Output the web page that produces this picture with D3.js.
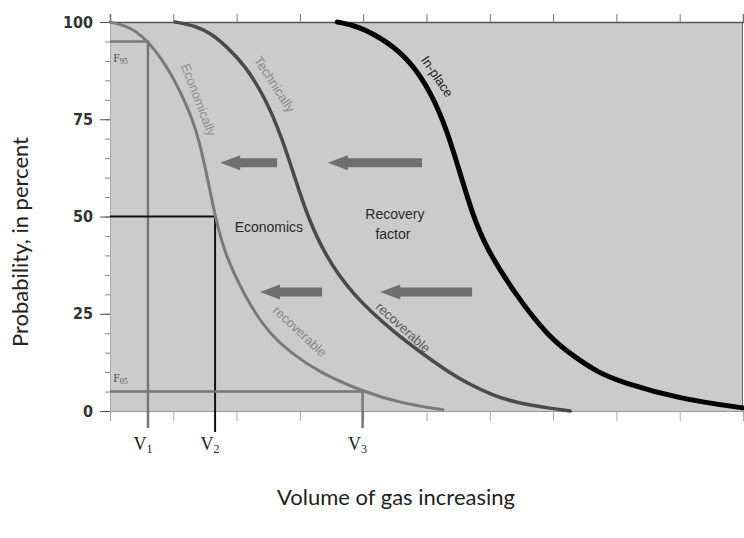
<!DOCTYPE html>
<html lang="en">
<head>
<meta charset="UTF-8">
<title>Probability versus volume of gas</title>
<script src="https://d3js.org/d3.v7.min.js"></script>
<style>
    body {
        margin: 0;
        background: #fff;
    }
    .ylab text {
        font-family: "Liberation Sans Narrow", "DejaVu Sans Condensed", Arial, sans-serif;
        font-weight: bold;
        font-size: 16px;
        fill: #333;
    }
    .title {
        font-family: Lato, "Open Sans", sans-serif;
        font-size: 22px;
        fill: #222;
    }
    .vlab {
        font-family: "Liberation Serif", "DejaVu Serif", serif;
        font-size: 18px;
        fill: #222;
    }
    .note {
        font-family: "Liberation Sans", Arial, sans-serif;
        font-size: 14px;
        fill: #2a2a2a;
    }
    .curvelab {
        font-family: "Liberation Sans", Arial, sans-serif;
        font-size: 13px;
    }
</style>
</head>
<body>
<svg width="744" height="538"></svg>
<script>
    // curves (x = volume in tick units, y = probability %)
    const econX = [0, 0.25, 0.42, 0.6, 0.84, 1.02, 1.17, 1.30, 1.40, 1.54, 1.66, 1.82, 2.12, 2.30, 2.52, 2.85, 3.30, 3.99, 4.6, 5.26];
    const econY = [100, 99, 97.5, 95, 90, 85, 80, 75, 70, 60, 50, 40, 30, 25, 20, 15, 10, 5, 2, 0.3];

    const techX = [1.03, 1.35, 1.6, 1.82, 2.13, 2.47, 2.72, 2.92, 3.12, 3.40, 3.82, 4.50, 5.0, 5.35, 5.66, 6.05, 6.45, 6.95, 7.27];
    const techY = [100, 99, 97, 94, 89, 80, 70, 60, 50, 40, 30, 20, 14, 10, 7, 4, 2, 0.7, 0];

    const placeX = [3.59, 3.92, 4.38, 4.74, 5.07, 5.33, 5.55, 5.74, 5.94, 6.40, 6.93, 7.33, 7.70, 8.06, 9.0, 10];
    const placeY = [100, 99, 95, 90, 82, 72, 60, 50, 42, 30, 19, 14, 10, 7.5, 3.1, 0.8];

    // fractiles of the economically recoverable curve
    const fracNames = ["1", "2", "3"];
    const fracX = [0.6, 1.66, 3.99];
    const fracY = [95, 50, 5];

    const yTicks = [0, 25, 50, 75, 100];

    // arrows (from x0 to x1 at y)
    const arrowX0 = [2.64, 4.93, 3.35, 5.72];
    const arrowX1 = [1.74, 3.44, 2.37, 4.27];
    const arrowY = [63.8, 63.8, 30.6, 30.6];

    const svg = d3.select("svg");
    const margin = {left: 110, right: 1, top: 22, bottom: 127};
    const width = 744, height = 538;

    const x = d3.scaleLinear().domain([0, 10]).range([margin.left, width - margin.right]);
    const y = d3.scaleLinear().domain([0, 100]).range([height - margin.bottom, margin.top]);

    // grey plot area
    svg.append("rect")
        .attr("x", x(0)).attr("y", y(100))
        .attr("width", x(10) - x(0)).attr("height", y(0) - y(100))
        .attr("fill", "#cbcbcb");

    // axes
    svg.append("g")
        .attr("transform", `translate(${x(0)},0)`)
        .call(d3.axisLeft(y).tickValues(d3.range(0, 101, 5)).tickSize(5).tickFormat(""))
        .call(g => g.select(".domain").attr("stroke", "#aaa"))
        .call(g => g.selectAll("line").attr("stroke", "#888"));

    svg.append("g")
        .attr("class", "ylab")
        .attr("transform", `translate(${x(0)},0)`)
        .call(d3.axisLeft(y).tickValues(yTicks).tickSize(10).tickPadding(7))
        .call(g => g.select(".domain").remove())
        .call(g => g.selectAll("line").attr("stroke", "#555"));

    svg.append("g")
        .attr("transform", `translate(0,${y(100)})`)
        .call(d3.axisTop(x).ticks(10).tickSize(8).tickFormat(""))
        .call(g => g.select(".domain").attr("stroke", "#555").attr("stroke-width", 1.5))
        .call(g => g.selectAll("line").attr("stroke", "#777"));

    svg.append("g")
        .attr("transform", `translate(0,${y(0)})`)
        .call(d3.axisBottom(x).ticks(10).tickSize(10).tickFormat(""))
        .call(g => g.select(".domain").attr("stroke", "#999"))
        .call(g => g.selectAll("line").attr("stroke", "#aaa"));

    svg.append("line")
        .attr("x1", x(10) - 0.5).attr("x2", x(10) - 0.5)
        .attr("y1", y(100)).attr("y2", y(0))
        .attr("stroke", "#666");

    // fractile guide lines
    const fracColor = ["#777", "#111", "#777"];
    fracX.forEach((fx, i) => {
        svg.append("path")
            .attr("d", `M${x(0)},${y(fracY[i])}H${x(fx)}V${y(0) + (i === 1 ? 21 : 17)}`)
            .attr("fill", "none")
            .attr("stroke", fracColor[i])
            .attr("stroke-width", i === 1 ? 2 : 2.5);
    });

    // curves
    const line = d3.line()
        .x(d => x(d[0]))
        .y(d => y(d[1]))
        .curve(d3.curveBasis);

    const curves = [
        {xs: econX, ys: econY, color: "#7a7a7a", w: 3},
        {xs: techX, ys: techY, color: "#4a4a4a", w: 3.5},
        {xs: placeX, ys: placeY, color: "#000", w: 5}
    ];
    svg.append("g")
        .selectAll("path")
        .data(curves)
        .join("path")
        .attr("d", d => line(d.xs.map((v, i) => [v, d.ys[i]])))
        .attr("fill", "none")
        .attr("stroke", d => d.color)
        .attr("stroke-width", d => d.w)
        .attr("stroke-linecap", "round");

    // arrows
    arrowX0.forEach((ax, i) => {
        const x0 = x(ax), x1 = x(arrowX1[i]), yy = y(arrowY[i]);
        const hl = 20, sh = 4.5, hh = 7.5;
        svg.append("path")
            .attr("d", `M${x0},${yy - sh}H${x1 + hl}V${yy - hh}L${x1},${yy}L${x1 + hl},${yy + hh}V${yy + sh}H${x0}Z`)
            .attr("fill", "#6f6f6f");
    });

    // text notes inside the plot
    svg.append("text").attr("class", "note")
        .attr("x", x(2.51)).attr("y", y(46))
        .attr("text-anchor", "middle")
        .text("Economics");
    svg.append("text").attr("class", "note")
        .attr("x", x(4.5)).attr("y", y(49.4))
        .attr("text-anchor", "middle")
        .text("Recovery");
    svg.append("text").attr("class", "note")
        .attr("x", x(4.47)).attr("y", y(44.2))
        .attr("text-anchor", "middle")
        .text("factor");

    // curve labels, rotated along the lines
    const curveLabels = [
        {text: "Economically", cx: 1.4, cy: 80, a: 69, c: "#8f8f8f"},
        {text: "recoverable", cx: 3.0, cy: 20.5, a: 43, c: "#8a8a8a"},
        {text: "Technically", cx: 2.6, cy: 84, a: 57, c: "#8a8a8a"},
        {text: "recoverable", cx: 4.63, cy: 21.5, a: 42, c: "#5a5a5a"},
        {text: "In-place", cx: 5.17, cy: 86, a: 56, c: "#222"}
    ];
    svg.append("g")
        .selectAll("text")
        .data(curveLabels)
        .join("text")
        .attr("class", "curvelab")
        .attr("transform", d => `translate(${x(d.cx)},${y(d.cy)}) rotate(${d.a})`)
        .attr("text-anchor", "middle")
        .attr("dy", "0.35em")
        .attr("fill", d => d.c)
        .text(d => d.text);

    // F95 / F05 labels
    [["95", 90.7], ["05", 8.4]].forEach(([s, v]) => {
        const t = svg.append("text")
            .attr("x", x(0.05)).attr("y", y(v) + 4)
            .attr("font-family", "Liberation Serif, serif")
            .attr("font-size", 12)
            .attr("fill", "#555");
        t.append("tspan").text("F");
        t.append("tspan").attr("font-size", 8).attr("dy", 2).text(s);
    });

    // V labels under the fractile lines
    fracX.forEach((fx, i) => {
        const t = svg.append("text")
            .attr("class", "vlab")
            .attr("x", x(fx) - 5).attr("y", y(0) + 39)
            .attr("text-anchor", "middle");
        t.append("tspan").text("V");
        t.append("tspan").attr("font-size", 12).attr("dy", 3).text(fracNames[i]);
    });

    // axis titles
    svg.append("text").attr("class", "title")
        .attr("x", 396).attr("y", 505)
        .attr("text-anchor", "middle")
        .text("Volume of gas increasing");
    svg.append("text").attr("class", "title")
        .attr("transform", "translate(28,242) rotate(-90)")
        .attr("text-anchor", "middle")
        .text("Probability, in percent");
</script>
</body>
</html>
